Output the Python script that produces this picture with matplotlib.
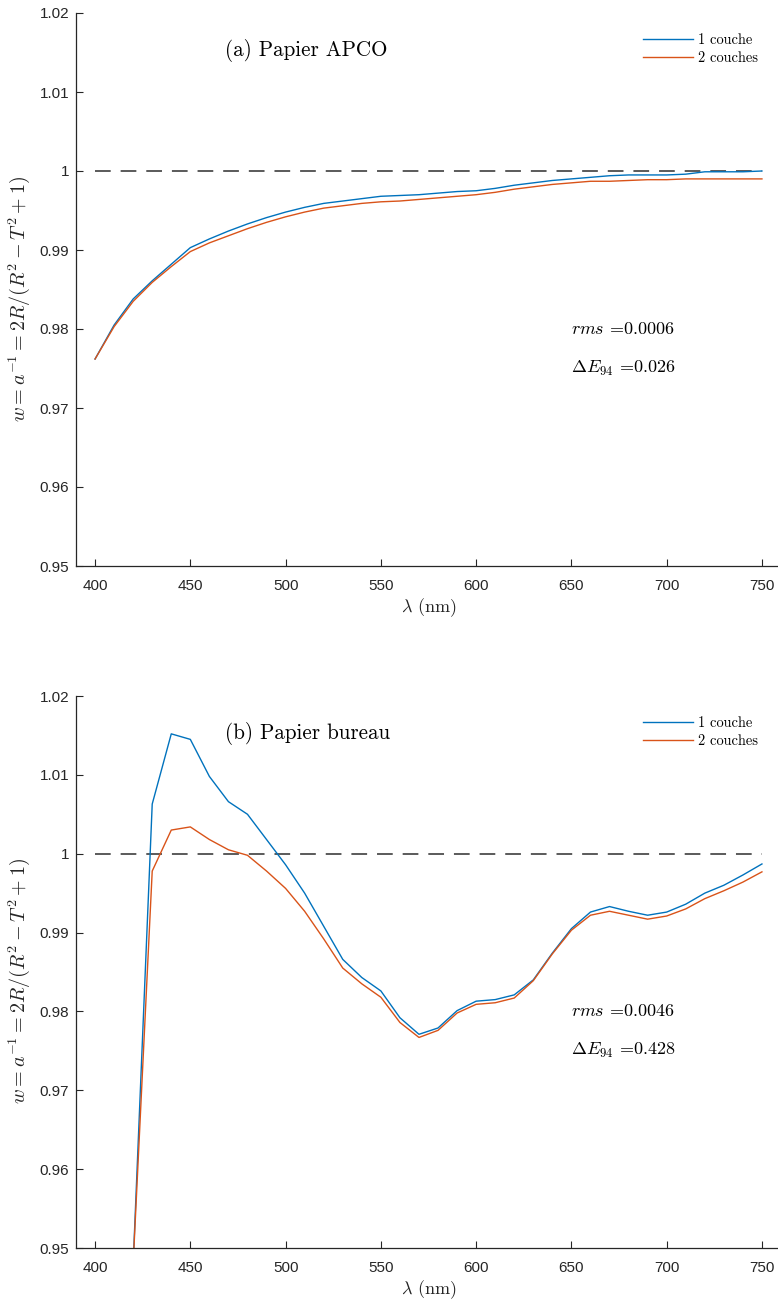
import numpy as np
import matplotlib
matplotlib.use("Agg")
import matplotlib.pyplot as plt

plt.rcParams['mathtext.fontset'] = 'cm'
plt.rcParams['font.family'] = ['Liberation Sans', 'DejaVu Sans']

wavelength = np.arange(400, 751, 10)

# (a) Papier APCO
apco_1 = [0.9762, 0.9805, 0.9838, 0.9861, 0.9882, 0.9903, 0.9914, 0.9924, 0.9933, 0.9941,
          0.9948, 0.9954, 0.9959, 0.9962, 0.9965, 0.9968, 0.9969, 0.9970, 0.9972, 0.9974,
          0.9975, 0.9978, 0.9982, 0.9985, 0.9988, 0.9990, 0.9992, 0.9994, 0.9995, 0.9995,
          0.9995, 0.9996, 0.9999, 0.9999, 0.9999, 1.0000]
apco_2 = [0.9762, 0.9803, 0.9835, 0.9859, 0.9879, 0.9898, 0.9909, 0.9918, 0.9927, 0.9935,
          0.9942, 0.9948, 0.9953, 0.9956, 0.9959, 0.9961, 0.9962, 0.9964, 0.9966, 0.9968,
          0.9970, 0.9973, 0.9977, 0.9980, 0.9983, 0.9985, 0.9987, 0.9987, 0.9988, 0.9989,
          0.9989, 0.9990, 0.9990, 0.9990, 0.9990, 0.9990]

# (b) Papier bureau
bureau_1 = [0.900, 0.920, 0.948, 1.0063, 1.0152, 1.0145, 1.0098, 1.0066, 1.0050, 1.0018,
            0.9986, 0.9950, 0.9908, 0.9866, 0.9843, 0.9826, 0.9792, 0.9771, 0.9779, 0.9801,
            0.9813, 0.9815, 0.9821, 0.9840, 0.9874, 0.9905, 0.9926, 0.9933, 0.9927, 0.9922,
            0.9926, 0.9936, 0.9950, 0.9960, 0.9973, 0.9987]
bureau_2 = [0.900, 0.920, 0.948, 0.9978, 1.0030, 1.0034, 1.0018, 1.0005, 0.9998, 0.9978,
            0.9956, 0.9927, 0.9892, 0.9855, 0.9835, 0.9818, 0.9786, 0.9767, 0.9776, 0.9798,
            0.9809, 0.9811, 0.9817, 0.9839, 0.9873, 0.9903, 0.9922, 0.9927, 0.9922, 0.9917,
            0.9921, 0.9930, 0.9943, 0.9953, 0.9964, 0.9977]

panels = [
    ("(a) Papier APCO", apco_1, apco_2, "0.0006", "0.026"),
    ("(b) Papier bureau", bureau_1, bureau_2, "0.0046", "0.428"),
]

W, H = 778, 1301
fig = plt.figure(figsize=(W / 100, H / 100), dpi=100)

ax_color = '#262626'
blue = '#0072BD'
orange = '#D95319'
axes_px = [(13, 566), (696, 1248)]  # top, bottom pixel of each axes

for (title, y1, y2, rms, de), (top, bot) in zip(panels, axes_px):
    left, right = 76, 781
    ax = fig.add_axes([left / W, 1 - bot / H, (right - left) / W, (bot - top) / H])
    ax.plot([400, 750], [1, 1], color='0.3', lw=1.3, linestyle=(0, (8.7, 5.5)))
    ax.plot(wavelength, y1, color=blue, lw=1.0, label='1 couche')
    ax.plot(wavelength, y2, color=orange, lw=1.0, label='2 couches')
    ax.set_xlim(390, 760)
    ax.set_ylim(0.95, 1.02)
    ax.set_xticks(np.arange(400, 751, 50))
    yt = np.round(np.arange(0.95, 1.0201, 0.01), 2)
    ax.set_yticks(yt)
    ax.set_yticklabels(['%g' % v for v in yt])
    for s in ['top', 'right']:
        ax.spines[s].set_visible(False)
    for s in ['left', 'bottom']:
        ax.spines[s].set_color(ax_color)
        ax.spines[s].set_linewidth(0.9)
    ax.tick_params(direction='in', length=5, width=0.8, colors=ax_color,
                   labelsize=11)
    ax.tick_params(axis='x', pad=9)
    ax.tick_params(axis='y', pad=5)

    ax.text(468, 1.0152, title, fontname='cmr10', fontsize=15.2, va='center', ha='left')
    ax.text(650, 0.98, r'$rms$ =' + rms, fontname='cmr10', fontsize=13,
            va='center', ha='left')
    ax.text(650, 0.975, r'$\Delta E_{94}$ =' + de, fontname='cmr10', fontsize=13,
            va='center', ha='left')
    ax.set_ylabel(r'$w = a^{-1} = 2R/(R^2 - T^2 + 1)$', fontsize=14.5, color=ax_color)
    ax.yaxis.set_label_coords(-0.062, 0.483)
    ax.set_xlabel(r'$\lambda$ (nm)', fontname='cmr10', fontsize=13, color=ax_color,
                  labelpad=3)
    ax.legend(loc='upper right', bbox_to_anchor=(0.975, 0.9734), frameon=False,
              prop={'family': 'cmr10', 'size': 10.4}, handlelength=3.4,
              labelspacing=0.29, handletextpad=0.35, borderaxespad=0)

fig.savefig('out.png', dpi=100)
